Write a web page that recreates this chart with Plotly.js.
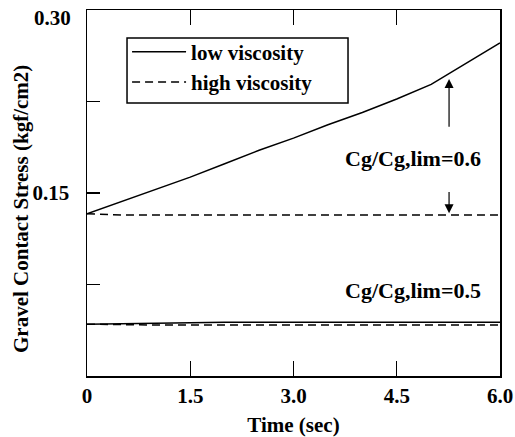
<!DOCTYPE html>
<html>
<head>
<meta charset="utf-8">
<script src="https://cdn.plot.ly/plotly-3.0.1.min.js"></script>
<style>
  html, body { margin: 0; padding: 0; background: #fff; }
  #chart { width: 515px; height: 437px; }
</style>
</head>
<body>
<div id="chart"></div>
<script>
// ---- data ----
var time = [0, 0.5, 1, 1.5, 2, 2.5, 3, 3.5, 4, 4.5, 5, 5.5, 6];
var lowVisc06  = [0.133, 0.143, 0.153, 0.163, 0.174, 0.185, 0.195, 0.206, 0.216, 0.227, 0.239, 0.256, 0.273];
var highVisc06 = [0.133, 0.132, 0.132, 0.132, 0.132, 0.132, 0.132, 0.132, 0.132, 0.132, 0.132, 0.132, 0.132];
var lowVisc05  = [0.0425, 0.0430, 0.0436, 0.0440, 0.0440, 0.0440, 0.0440, 0.0440, 0.0440, 0.0440, 0.0440, 0.0440, 0.0440];
var highVisc05 = [0.0425, 0.0420, 0.0418, 0.0418, 0.0418, 0.0418, 0.0418, 0.0418, 0.0418, 0.0418, 0.0418, 0.0418, 0.0418];
var seriesNames = ['low viscosity', 'high viscosity'];
var xTickVals = [0, 1.5, 3, 4.5, 6];
var xTickText = ['0', '1.5', '3.0', '4.5', '6.0'];
var yTickVals = [0.075, 0.15, 0.225];
var yTickText = ['', '0.15', ''];
var yTopLabel = '0.30';
var yTitle = 'Gravel Contact Stress (kgf/cm2)';
var xTitle = 'Time (sec)';
var labelCase06 = 'Cg/Cg,lim=0.6';
var labelCase05 = 'Cg/Cg,lim=0.5';

var FONT = 'Liberation Serif, Times New Roman, serif';
var solid = {color: '#000', width: 1.5, dash: 'solid'};
var dashed = {color: '#000', width: 1.5, dash: '8px,5px'};

var traces = [
  {x: time, y: lowVisc06, mode: 'lines', name: seriesNames[0], line: solid, showlegend: true},
  {x: time, y: highVisc06, mode: 'lines', name: seriesNames[1], line: dashed, showlegend: true},
  {x: time, y: lowVisc05, mode: 'lines', name: seriesNames[0], line: solid, showlegend: false},
  {x: time, y: highVisc05, mode: 'lines', name: seriesNames[1], line: dashed, showlegend: false}
];

var layout = {
  width: 515, height: 437,
  margin: {l: 87, r: 15, t: 10, b: 61},
  paper_bgcolor: '#fff', plot_bgcolor: '#fff',
  font: {family: FONT, size: 21, color: '#000', weight: 'bold'},
  showlegend: true,
  legend: {
    x: 0.097, y: 0.941, xanchor: 'left', yanchor: 'top',
    borderwidth: 0, bgcolor: 'rgba(0,0,0,0)',
    font: {family: FONT, size: 21, color: '#000', weight: 'bold'},
    itemwidth: 54
  },
  shapes: [
    {type: 'rect', xref: 'paper', yref: 'paper', x0: 0.0969, x1: 0.632, y0: 0.746, y1: 0.9235,
     line: {color: '#000', width: 1.5}, fillcolor: 'rgba(0,0,0,0)', layer: 'above'}
  ],
  xaxis: {
    range: [0, 6], tickmode: 'array', tickvals: xTickVals, ticktext: xTickText,
    ticks: 'inside', ticklen: 15, tickwidth: 1.3, tickcolor: '#000',
    showline: true, linecolor: '#000', linewidth: 1.5, mirror: 'ticks',
    showgrid: false, zeroline: false,
    tickfont: {family: FONT, size: 21, weight: 'bold'},
    title: {text: xTitle, font: {family: FONT, size: 21, weight: 'bold'}, standoff: 14}
  },
  yaxis: {
    range: [0, 0.30], tickmode: 'array', tickvals: yTickVals, ticktext: yTickText,
    ticks: 'inside', ticklen: 13, tickwidth: 1.3, tickcolor: '#000',
    showline: true, linecolor: '#000', linewidth: 1.5, mirror: true,
    showgrid: false, zeroline: false, ticklabelstandoff: 12,
    tickfont: {family: FONT, size: 21, weight: 'bold'}
  },
  annotations: [
    {x: -0.034, y: 0.977, xref: 'paper', yref: 'paper', text: yTopLabel,
     showarrow: false, xanchor: 'right', yanchor: 'middle',
     font: {family: FONT, size: 21, weight: 'bold'}},
    {x: -0.16, y: 0.456, xref: 'paper', yref: 'paper', text: yTitle, textangle: -90,
     showarrow: false, xanchor: 'center', yanchor: 'middle',
     font: {family: FONT, size: 21, weight: 'bold'}},
    {x: 4.73, y: 0.178, xref: 'x', yref: 'y', text: labelCase06, showarrow: false,
     font: {family: FONT, size: 22, weight: 'bold'}},
    {x: 4.73, y: 0.070, xref: 'x', yref: 'y', text: labelCase05, showarrow: false,
     font: {family: FONT, size: 22, weight: 'bold'}},
    {x: 5.26, y: 0.2435, ax: 5.26, ay: 0.203, xref: 'x', yref: 'y', axref: 'x', ayref: 'y',
     text: '', showarrow: true, arrowhead: 2, arrowsize: 1.5, arrowwidth: 1.2, arrowcolor: '#000'},
    {x: 5.26, y: 0.1335, ax: 5.26, ay: 0.152, xref: 'x', yref: 'y', axref: 'x', ayref: 'y',
     text: '', showarrow: true, arrowhead: 2, arrowsize: 1.5, arrowwidth: 1.2, arrowcolor: '#000'}
  ]
};

Plotly.newPlot('chart', traces, layout, {displayModeBar: false, staticPlot: true});
</script>
</body>
</html>
